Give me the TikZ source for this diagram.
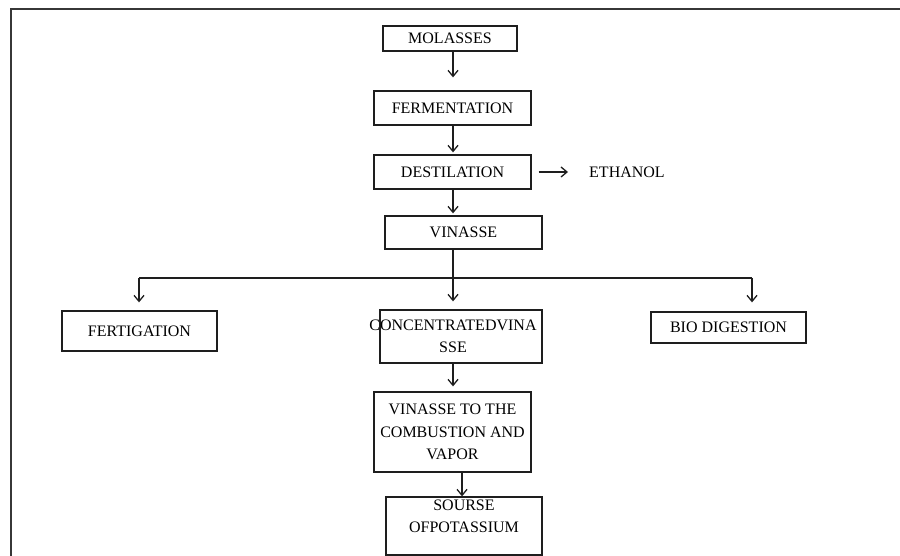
\documentclass[tikz,border=0pt]{standalone}
\usepackage{fontspec}
\setmainfont{Liberation Serif}
\usetikzlibrary{arrows.meta}
\usepackage{xcolor}
\definecolor{FrameGray}{RGB}{55,55,55}
\definecolor{LineBlack}{RGB}{30,30,30}

\begin{document}
\begin{tikzpicture}[
x=1pt,y=-1pt,
box/.style={rectangle,draw=LineBlack,line width=1.3pt,align=center,inner sep=0pt,
font=\fontsize{16}{22.5}\selectfont},
label/.style={inner sep=0pt,font=\fontsize{16}{22.5}\selectfont},
arrow/.style={-{Straight Barb[length=6pt,width=10pt]},line width=1.3pt,draw=LineBlack},
line/.style={line width=1.2pt,draw=LineBlack}
]
\clip (0,0) rectangle (900,556);
\draw[line width=2.2pt,draw=FrameGray] (905,9) -- (11,9) -- (11,560);
\node[box,minimum width=134pt,minimum height=25pt] (a) at (450,38.5) {MOLASSES};
\node[box,minimum width=157pt,minimum height=34pt] (b) at (452.5,108) {FERMENTATION};
\node[box,minimum width=157pt,minimum height=34pt] (c) at (452.5,172) {DESTILATION};
\node[label,anchor=west] (d) at (589,172) {ETHANOL};
\node[box,minimum width=157pt,minimum height=33pt] (e) at (463.5,232.5) {VINASSE};
\node[box,minimum width=155pt,minimum height=40pt] (f) at (139.5,331) {FERTIGATION};
\node[box,minimum width=162pt,minimum height=53pt] (g) at (461,336.5) {\makebox[0pt]{CONCENTRATEDVINA\kern16pt}\\SSE\kern16pt};
\node[box,minimum width=155pt,minimum height=31pt] (h) at (728.5,327.5) {BIO DIGESTION};
\node[box,minimum width=157pt,minimum height=80pt] (i) at (452.5,432) {VINASSE TO THE\\COMBUSTION AND\\VAPOR};
\node[box,minimum width=156pt,minimum height=58pt] (j) at (464,526) {SOURSE\\OFPOTASSIUM\\[-3pt]\mbox{}};
\coordinate (s) at (453,278);
\coordinate (fl) at (139,278);
\coordinate (br) at (752,278);
\coordinate (t) at (462,485);
\draw[arrow,shorten >=13pt] (a.south -| s) -- (b.north -| s);
\draw[arrow,shorten >=2pt] (b.south -| s) -- (c.north -| s);
\draw[arrow,shorten <=7pt,shorten >=21pt] (c.east) -- (d.west);
\draw[arrow,shorten >=2pt] (c.south -| s) -- (e.north -| s);
\draw[line] (e.south -| s) -- (s);
\draw[line] (fl) -- (br);
\draw[arrow,shorten >=8pt] (fl) -- (f.north -| fl);
\draw[arrow,shorten >=8pt] (s) -- (g.north -| s);
\draw[arrow,shorten >=9pt] (br) -- (h.north -| br);
\draw[arrow,shorten >=5pt] (g.south -| s) -- (i.north -| s);
\draw[arrow] (i.south -| t) -- (j.north -| t);
\end{tikzpicture}
\end{document}
